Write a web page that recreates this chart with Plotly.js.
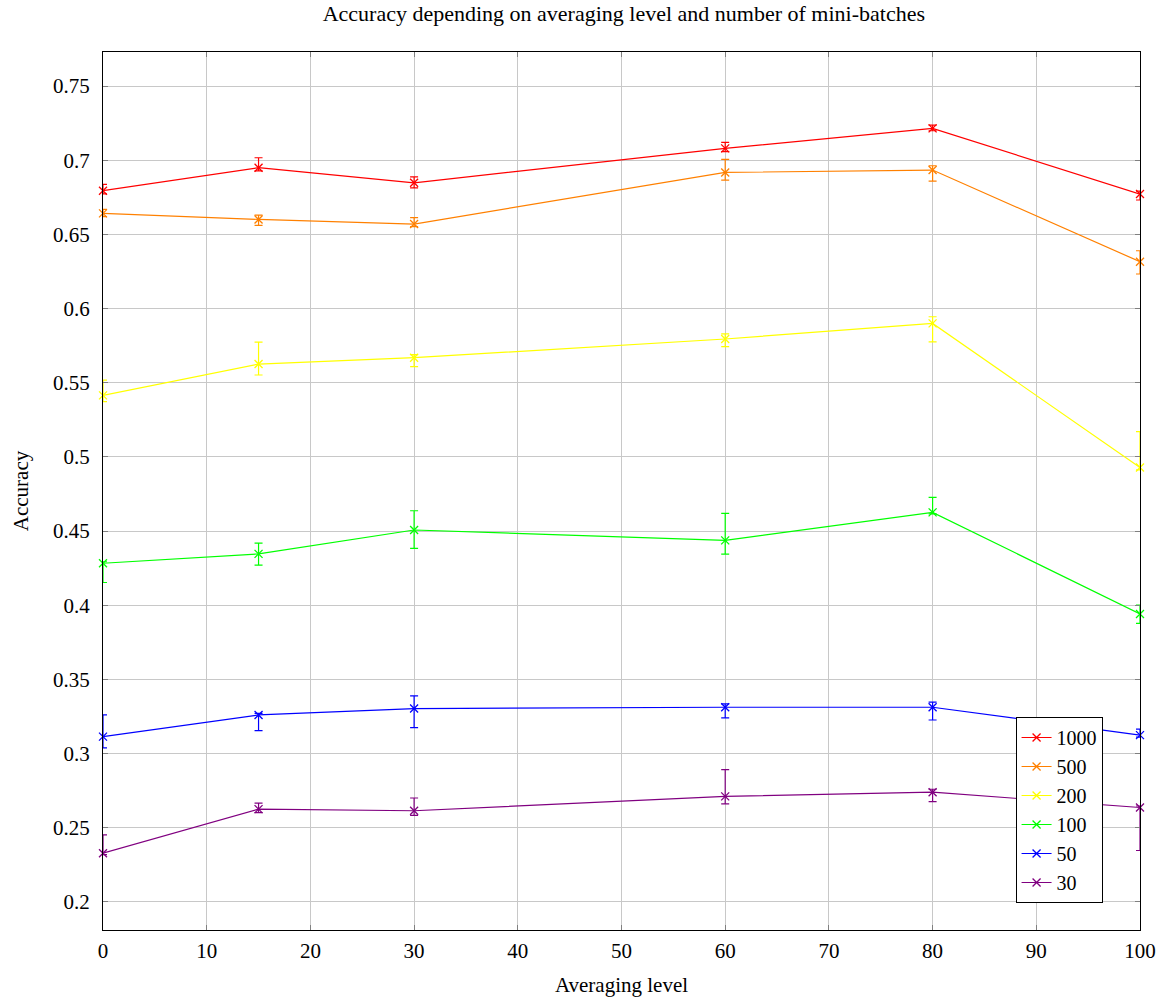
<!DOCTYPE html>
<html>
<head>
<meta charset="utf-8">
<script src="https://cdn.plot.ly/plotly-3.0.1.min.js"></script>
<style>html,body{margin:0;padding:0;background:#fff;}#chart{width:1166px;height:997px;}</style>
</head>
<body>
<div id="chart"></div>
<script>
const averagingLevels = [0, 15, 30, 60, 80, 100];
const seriesNames = ["1000", "500", "200", "100", "50", "30"];
const seriesColors = ["#ff0000", "#ff8000", "#ffff00", "#00ff00", "#0000ff", "#800080"];

const acc1000 = [0.6795, 0.6950, 0.6848, 0.7080, 0.7215, 0.6772];
const acc500  = [0.6642, 0.6601, 0.6570, 0.6918, 0.6934, 0.6316];
const acc200  = [0.5415, 0.5626, 0.5669, 0.5795, 0.5900, 0.4928];
const acc100  = [0.4283, 0.4346, 0.4507, 0.4437, 0.4626, 0.3941];
const acc50   = [0.3114, 0.3260, 0.3303, 0.3312, 0.3312, 0.3124];
const acc30   = [0.2328, 0.2625, 0.2614, 0.2711, 0.2739, 0.2636];

const errPlus1000 = [0.0043, 0.0067, 0.0040, 0.0040, 0.0022, 0.0020];
const errMinus1000 = [0.0022, 0.0022, 0.0034, 0.0022, 0.0016, 0.0040];
const errPlus500 = [0.0027, 0.0029, 0.0043, 0.0088, 0.0029, 0.0074];
const errMinus500 = [0.0022, 0.0040, 0.0018, 0.0052, 0.0074, 0.0083];
const errPlus200 = [0.0103, 0.0148, 0.0020, 0.0034, 0.0045, 0.0243];
const errMinus200 = [0.0043, 0.0074, 0.0060, 0.0052, 0.0124, 0.0015];
const errPlus100 = [0.0010, 0.0072, 0.0130, 0.0182, 0.0101, 0.0060];
const errMinus100 = [0.0130, 0.0076, 0.0124, 0.0092, 0.0010, 0.0063];
const errPlus50 = [0.0146, 0.0010, 0.0086, 0.0022, 0.0034, 0.0040];
const errMinus50 = [0.0076, 0.0106, 0.0128, 0.0072, 0.0086, 0.0013];
const errPlus30 = [0.0124, 0.0040, 0.0086, 0.0180, 0.0020, 0.0010];
const errMinus30 = [0.0010, 0.0023, 0.0031, 0.0051, 0.0063, 0.0290];

const values = [acc1000, acc500, acc200, acc100, acc50, acc30];
const plus = [errPlus1000, errPlus500, errPlus200, errPlus100, errPlus50, errPlus30];
const minus = [errMinus1000, errMinus500, errMinus200, errMinus100, errMinus50, errMinus30];

const FONT = "Liberation Serif, DejaVu Serif, serif";

const traces = seriesNames.map((name, i) => ({
  x: averagingLevels,
  y: values[i],
  name: name,
  type: "scatter",
  mode: "lines+markers",
  line: {color: seriesColors[i], width: 1.2},
  marker: {symbol: "x-thin-open", size: 8, color: seriesColors[i], line: {color: seriesColors[i], width: 1.3}},
  error_y: {type: "data", symmetric: false, array: plus[i], arrayminus: minus[i], color: seriesColors[i], thickness: 1.2, width: 4},
  cliponaxis: false
}));

const layout = {
  width: 1166,
  height: 997,
  margin: {l: 103, r: 26, t: 52, b: 67},
  paper_bgcolor: "#ffffff",
  plot_bgcolor: "#ffffff",
  font: {family: FONT, size: 21, color: "#000"},
  title: {text: "Accuracy depending on averaging level and number of mini-batches", x: 0.535, xanchor: "center", y: 0.987, yanchor: "middle", font: {family: FONT, size: 22}},
  xaxis: {
    range: [0, 100],
    dtick: 10,
    tick0: 0,
    showgrid: true,
    gridcolor: "#c8c8c8",
    gridwidth: 1,
    zeroline: false,
    showline: true,
    linecolor: "#000",
    linewidth: 1,
    mirror: "ticks",
    ticks: "inside",
    ticklen: 5,
    tickcolor: "#808080",
    tickfont: {family: FONT, size: 21},
    ticklabelstandoff: 2,
    title: {text: "Averaging level", font: {family: FONT, size: 21}, standoff: 18}
  },
  yaxis: {
    range: [0.181, 0.773],
    dtick: 0.05,
    tick0: 0.2,
    showgrid: true,
    gridcolor: "#c8c8c8",
    gridwidth: 1,
    zeroline: false,
    showline: true,
    linecolor: "#000",
    linewidth: 1,
    mirror: "ticks",
    ticks: "inside",
    ticklen: 5,
    tickcolor: "#808080",
    tickfont: {family: FONT, size: 21},
    ticklabelstandoff: 8,
    title: {text: "Accuracy", font: {family: FONT, size: 21}, standoff: 18}
  },
  legend: {
    x: 0.880,
    y: 0.2426,
    xanchor: "left",
    yanchor: "top",
    bgcolor: "#ffffff",
    bordercolor: "#000",
    borderwidth: 1,
    font: {family: FONT, size: 20},
    tracegroupgap: 0,
    itemwidth: 30
  },
  showlegend: true
};

Plotly.newPlot("chart", traces, layout, {displayModeBar: false, staticPlot: true});
</script>
</body>
</html>
